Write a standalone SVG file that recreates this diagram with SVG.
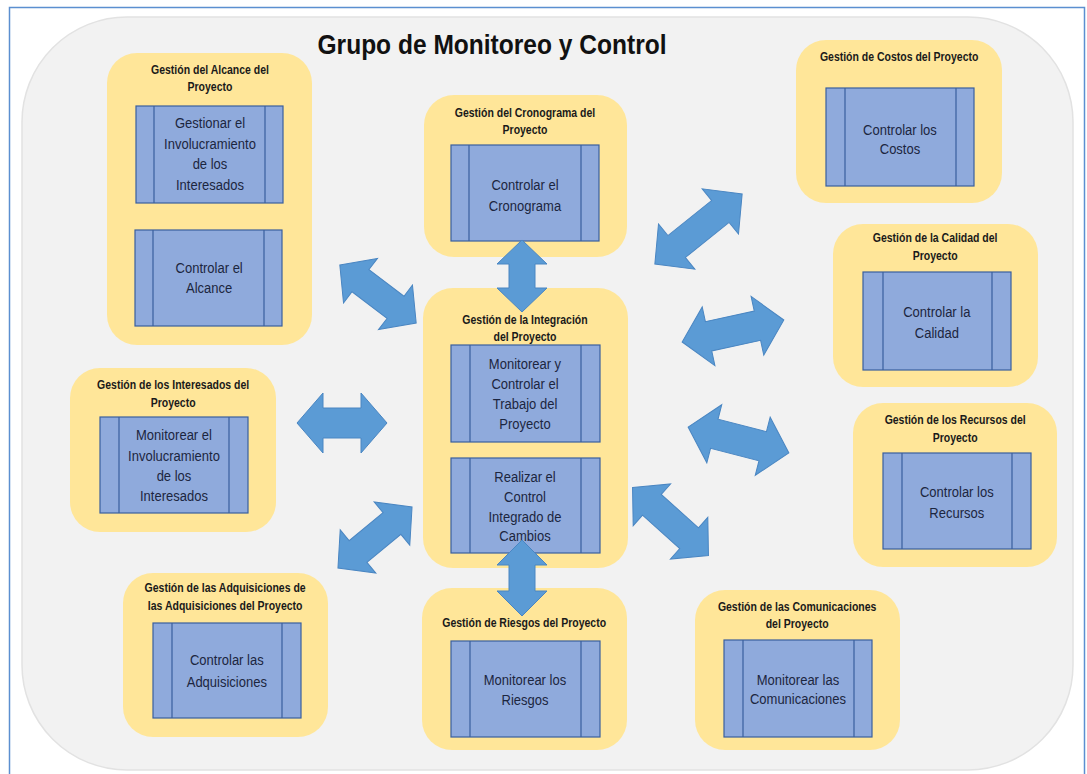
<svg xmlns="http://www.w3.org/2000/svg" width="1087" height="774" viewBox="0 0 1087 774">
  <defs>
    <style>
      .frame { fill: #ffffff; stroke: #5b8fd0; stroke-width: 1.5; }
      .panel { fill: #f2f2f2; stroke: #e2e2e2; stroke-width: 1.5; }
      .area { fill: #ffe699; }
      .proc { fill: #8faadc; stroke: #3a5f9e; stroke-width: 1.2; }
      .bar { stroke: #3a5f9e; stroke-width: 1.2; fill: none; }
      .link { fill: #5b9bd5; stroke: #4a86c2; stroke-width: 1; }
      .heading { font-family: "Liberation Sans", Arial, sans-serif; font-size: 28px; font-weight: bold; fill: #111111; text-anchor: middle; }
      .area-label { font-family: "Liberation Sans", Arial, sans-serif; font-size: 12.5px; font-weight: bold; fill: #1a1a1a; text-anchor: middle; }
      .proc-label { font-family: "Liberation Sans", Arial, sans-serif; font-size: 15.5px; fill: #1c2640; text-anchor: middle; }
    </style>
  </defs>

  <!-- outer frame and rounded panel -->
  <rect class="frame" x="9.5" y="7.5" width="1075" height="770"/>
  <rect class="panel" x="22" y="17" width="1051" height="753" rx="105" ry="105"/>

  <text class="heading" x="492" y="54" textLength="349" lengthAdjust="spacingAndGlyphs">Grupo de Monitoreo y Control</text>

  <!-- Labels are narrowed horizontally around each node's centre line -->

  <!-- Gestión del Alcance -->
  <g id="alcance">
    <rect class="area" x="107" y="53" width="205" height="292" rx="30"/>
    <rect class="proc" x="136" y="106" width="147" height="97"/>
    <path class="bar" d="M154,106V203M265,106V203"/>
    <rect class="proc" x="135" y="230" width="147" height="96"/>
    <path class="bar" d="M153,230V326M264,230V326"/>
    <g transform="translate(210 0) scale(0.84 1) translate(-210 0)">
      <text class="area-label" x="210" y="74">Gestión del Alcance del</text>
      <text class="area-label" x="210" y="91">Proyecto</text>
      <text class="proc-label" x="210" y="128">Gestionar el</text>
      <text class="proc-label" x="210" y="149">Involucramiento</text>
      <text class="proc-label" x="210" y="169">de los</text>
      <text class="proc-label" x="210" y="190">Interesados</text>
      <text class="proc-label" x="209" y="273">Controlar el</text>
      <text class="proc-label" x="209" y="293">Alcance</text>
    </g>
  </g>

  <!-- Gestión del Cronograma -->
  <g id="cronograma">
    <rect class="area" x="424" y="95" width="203" height="162" rx="30"/>
    <rect class="proc" x="451" y="145" width="148" height="96"/>
    <path class="bar" d="M469,145V241M581,145V241"/>
    <g transform="translate(525 0) scale(0.84 1) translate(-525 0)">
      <text class="area-label" x="525" y="117">Gestión del Cronograma del</text>
      <text class="area-label" x="525" y="134">Proyecto</text>
      <text class="proc-label" x="525" y="190">Controlar el</text>
      <text class="proc-label" x="525" y="211">Cronograma</text>
    </g>
  </g>

  <!-- Gestión de la Integración -->
  <g id="integracion">
    <rect class="area" x="423" y="288" width="205" height="280" rx="30"/>
    <rect class="proc" x="451" y="345" width="149" height="97"/>
    <path class="bar" d="M470,345V442M581,345V442"/>
    <rect class="proc" x="451" y="458" width="149" height="95"/>
    <path class="bar" d="M470,458V553M581,458V553"/>
    <g transform="translate(525 0) scale(0.84 1) translate(-525 0)">
      <text class="area-label" x="525" y="324">Gestión de la Integración</text>
      <text class="area-label" x="525" y="341">del Proyecto</text>
      <text class="proc-label" x="525" y="369">Monitorear y</text>
      <text class="proc-label" x="525" y="389">Controlar el</text>
      <text class="proc-label" x="525" y="409">Trabajo del</text>
      <text class="proc-label" x="525" y="429">Proyecto</text>
      <text class="proc-label" x="525" y="482">Realizar el</text>
      <text class="proc-label" x="525" y="502">Control</text>
      <text class="proc-label" x="525" y="522">Integrado de</text>
      <text class="proc-label" x="525" y="541">Cambios</text>
    </g>
  </g>

  <!-- Gestión de los Interesados -->
  <g id="interesados">
    <rect class="area" x="70" y="368" width="206" height="164" rx="30"/>
    <rect class="proc" x="100" y="417" width="148" height="96"/>
    <path class="bar" d="M119,417V513M229,417V513"/>
    <g transform="translate(174 0) scale(0.84 1) translate(-174 0)">
      <text class="area-label" x="173" y="389">Gestión de los Interesados del</text>
      <text class="area-label" x="173" y="407">Proyecto</text>
      <text class="proc-label" x="174" y="440">Monitorear el</text>
      <text class="proc-label" x="174" y="461">Involucramiento</text>
      <text class="proc-label" x="174" y="481">de los</text>
      <text class="proc-label" x="174" y="501">Interesados</text>
    </g>
  </g>

  <!-- Gestión de las Adquisiciones -->
  <g id="adquisiciones">
    <rect class="area" x="123" y="573" width="205" height="164" rx="30"/>
    <rect class="proc" x="153" y="623" width="148" height="95"/>
    <path class="bar" d="M172,623V718M282,623V718"/>
    <g transform="translate(226 0) scale(0.84 1) translate(-226 0)">
      <text class="area-label" x="225" y="592">Gestión de las Adquisiciones de</text>
      <text class="area-label" x="225" y="610">las Adquisiciones del Proyecto</text>
      <text class="proc-label" x="227" y="665">Controlar las</text>
      <text class="proc-label" x="227" y="687">Adquisiciones</text>
    </g>
  </g>

  <!-- Gestión de Riesgos -->
  <g id="riesgos">
    <rect class="area" x="422" y="588" width="205" height="162" rx="30"/>
    <rect class="proc" x="451" y="641" width="149" height="96"/>
    <path class="bar" d="M470,641V737M581,641V737"/>
    <g transform="translate(525 0) scale(0.84 1) translate(-525 0)">
      <text class="area-label" x="524" y="627">Gestión de Riesgos del Proyecto</text>
      <text class="proc-label" x="525" y="685">Monitorear los</text>
      <text class="proc-label" x="525" y="705">Riesgos</text>
    </g>
  </g>

  <!-- Gestión de las Comunicaciones -->
  <g id="comunicaciones">
    <rect class="area" x="695" y="590" width="205" height="160" rx="30"/>
    <rect class="proc" x="724" y="640" width="148" height="97"/>
    <path class="bar" d="M743,640V737M854,640V737"/>
    <g transform="translate(798 0) scale(0.84 1) translate(-798 0)">
      <text class="area-label" x="797" y="611">Gestión de las Comunicaciones</text>
      <text class="area-label" x="797" y="628">del Proyecto</text>
      <text class="proc-label" x="798" y="685">Monitorear las</text>
      <text class="proc-label" x="798" y="704">Comunicaciones</text>
    </g>
  </g>

  <!-- Gestión de Costos -->
  <g id="costos">
    <rect class="area" x="796" y="40" width="206" height="163" rx="30"/>
    <rect class="proc" x="826" y="88" width="148" height="98"/>
    <path class="bar" d="M845,88V186M956,88V186"/>
    <g transform="translate(900 0) scale(0.84 1) translate(-900 0)">
      <text class="area-label" x="899" y="61">Gestión de Costos del Proyecto</text>
      <text class="proc-label" x="900" y="135">Controlar los</text>
      <text class="proc-label" x="900" y="154">Costos</text>
    </g>
  </g>

  <!-- Gestión de la Calidad -->
  <g id="calidad">
    <rect class="area" x="833" y="224" width="205" height="163" rx="30"/>
    <rect class="proc" x="863" y="272" width="148" height="98"/>
    <path class="bar" d="M883,272V370M992,272V370"/>
    <g transform="translate(936 0) scale(0.84 1) translate(-936 0)">
      <text class="area-label" x="935" y="242">Gestión de la Calidad del</text>
      <text class="area-label" x="935" y="260">Proyecto</text>
      <text class="proc-label" x="937" y="317">Controlar la</text>
      <text class="proc-label" x="937" y="338">Calidad</text>
    </g>
  </g>

  <!-- Gestión de los Recursos -->
  <g id="recursos">
    <rect class="area" x="853" y="403" width="204" height="164" rx="30"/>
    <rect class="proc" x="883" y="453" width="148" height="96"/>
    <path class="bar" d="M902,453V549M1012,453V549"/>
    <g transform="translate(956 0) scale(0.84 1) translate(-956 0)">
      <text class="area-label" x="955" y="424">Gestión de los Recursos del</text>
      <text class="area-label" x="955" y="442">Proyecto</text>
      <text class="proc-label" x="957" y="497">Controlar los</text>
      <text class="proc-label" x="957" y="518">Recursos</text>
    </g>
  </g>

  <!-- connectors: double-headed block arrows, drawn over the areas -->
  <g id="connectors">
    <!-- Cronograma <-> Integración -->
    <polygon class="link" transform="translate(522,276) rotate(90)" points="-36,0 -12,-25 -12,-13 12,-13 12,-25 36,0 12,25 12,13 -12,13 -12,25"/>
    <!-- Integración <-> Riesgos -->
    <polygon class="link" transform="translate(522,578) rotate(90)" points="-38,0 -13,-25 -13,-13 13,-13 13,-25 38,0 13,25 13,13 -13,13 -13,25"/>
    <!-- Alcance <-> Integración -->
    <polygon class="link" transform="translate(378,294) rotate(37.3)" points="-48,0 -22,-28 -22,-14 22,-14 22,-28 48,0 22,28 22,14 -22,14 -22,28"/>
    <!-- Interesados <-> Integración -->
    <polygon class="link" transform="translate(342,423)" points="-45,0 -19,-30 -19,-15 19,-15 19,-30 45,0 19,30 19,15 -19,15 -19,30"/>
    <!-- Adquisiciones <-> Integración -->
    <polygon class="link" transform="translate(375,537.5) rotate(-39.5)" points="-48,0 -22,-28 -22,-14 22,-14 22,-28 48,0 22,28 22,14 -22,14 -22,28"/>
    <!-- Costos <-> Cronograma -->
    <polygon class="link" transform="translate(698.5,229) rotate(-38.8)" points="-56,0 -28,-29 -28,-14 28,-14 28,-29 56,0 28,29 28,14 -28,14 -28,29"/>
    <!-- Calidad <-> Integración -->
    <polygon class="link" transform="translate(733,331) rotate(-12.2)" points="-52,0 -25,-30 -25,-15 25,-15 25,-30 52,0 25,30 25,15 -25,15 -25,30"/>
    <!-- Recursos <-> Integración -->
    <polygon class="link" transform="translate(738.5,440) rotate(14.4)" points="-52,0 -25,-30 -25,-15 25,-15 25,-30 52,0 25,30 25,15 -25,15 -25,30"/>
    <!-- Comunicaciones <-> Integración -->
    <polygon class="link" transform="translate(670.5,521.5) rotate(41.9)" points="-51,0 -25,-28 -25,-14 25,-14 25,-28 51,0 25,28 25,14 -25,14 -25,28"/>
  </g>
</svg>
